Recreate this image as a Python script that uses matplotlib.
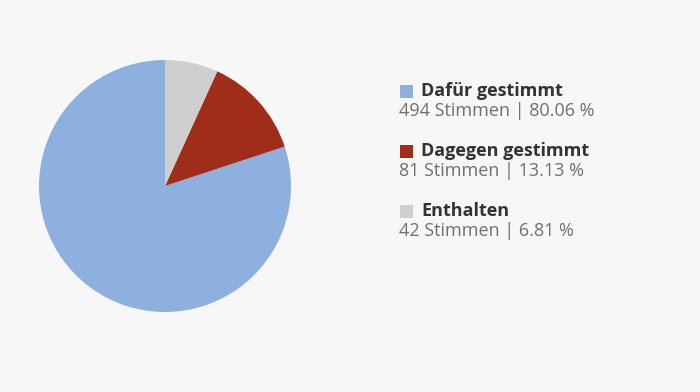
import matplotlib
matplotlib.use("Agg")
import matplotlib.pyplot as plt
from matplotlib.patches import Rectangle

labels = ["Dafür gestimmt", "Dagegen gestimmt", "Enthalten"]
stimmen = [494, 81, 42]
prozent = [80.06, 13.13, 6.81]
farben = ["#8EB0DF", "#A02D19", "#CFCFCF"]

W, H = 700, 392
bg = "#F7F7F7"

plt.rcParams['font.family'] = ['Open Sans', 'DejaVu Sans']

fig = plt.figure(figsize=(W / 100, H / 100), dpi=100, facecolor=bg)

# pie, centre ~ (165,186) px, radius ~126 px
cx, cy, r = 165, 186, 126
ax = fig.add_axes([(cx - r) / W, (H - cy - r) / H, 2 * r / W, 2 * r / H])
ax.set_facecolor(bg)
ax.pie(stimmen, colors=farben, startangle=90, counterclock=True, radius=1,
       wedgeprops=dict(linewidth=0))
ax.set_xlim(-1, 1)
ax.set_ylim(-1, 1)
ax.set_aspect("equal")
ax.axis("off")

# legend
y0 = 91
for i, (lab, n, p, c) in enumerate(zip(labels, stimmen, prozent, farben)):
    y = y0 + 60 * i
    fig.patches.append(Rectangle((400 / W, (H - y - 7) / H), 13 / W, 13 / H,
                                 transform=fig.transFigure, color=c, lw=0))
    fig.text(421 / W, (H - y) / H, lab, fontsize=13, fontweight="bold",
             color="#333333", va="center", ha="left")
    fig.text(399 / W, (H - y - 20) / H, f"{n} Stimmen | {p:.2f} %",
             fontsize=13, color="#707070", va="center", ha="left")

fig.savefig("out.png", dpi=100, facecolor=bg)
